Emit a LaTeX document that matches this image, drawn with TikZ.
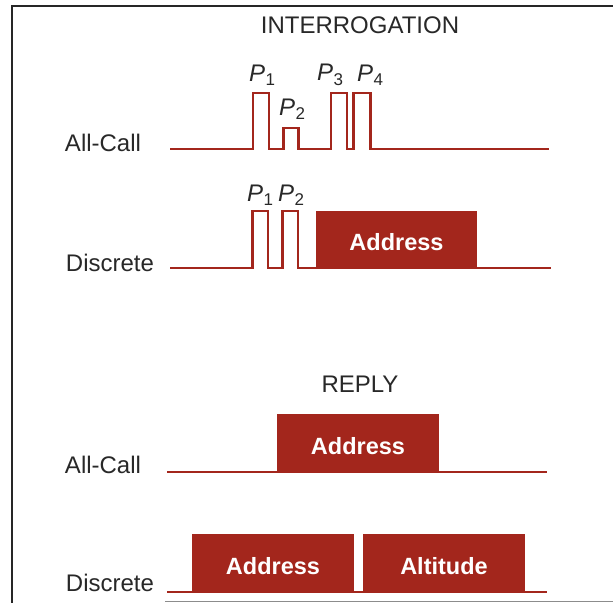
\documentclass[tikz,border=0pt]{standalone}
\usepackage{fontspec}
\setmainfont{Liberation Sans}
\definecolor{sig}{RGB}{163,38,28}
\definecolor{txt}{RGB}{40,40,40}
\tikzset{
  wave/.style={draw=sig, line width=2.4pt, line join=miter},
  blk/.style={fill=sig, draw=none, inner sep=0pt, minimum width=162pt, minimum height=59pt, text=white, font=\fontsize{23.5}{23.5}\selectfont\bfseries},
  lab/.style={text=txt, inner sep=0pt, font=\fontsize{24}{24}\selectfont},
  plab/.style={text=txt, inner sep=0pt, font=\fontsize{24}{24}\selectfont},
  frame/.style={draw=black!85, line width=2.5pt}
}
\newcommand{\pl}[1]{\textit{P}\kern0.5pt\raisebox{-4.5pt}{\fontsize{17}{17}\selectfont #1}}
\newcommand{\lw}[1]{\raisebox{-2.5pt}[\height][\depth]{#1}}
\begin{document}
\begin{tikzpicture}[x=1pt,y=-1pt]
\useasboundingbox (0,0) rectangle (613,603);
% frame
\draw[frame] (613,6) -- (12,6) -- (12,603);
\draw[black!45, line width=1pt] (165,601) -- (613,601);
% titles
\node[lab] (tint) at (360,25) {INTERROGATION};
\node[lab] (trep) at (360,384) {REPLY};
% labels
\node[lab] (l1) at (103,143) {All-Call};
\node[lab] (l2) at (110,263) {Discrete};
\node[lab] (l3) at (103,465) {All-Call};
\node[lab] (l4) at (110,583) {Discrete};
% interrogation all-call
\draw[wave] (170,149) -- (253,149) -- (253,93) -- (269,93) -- (269,149)
  -- (283.5,149) -- (283.5,128) -- (298.5,128) -- (298.5,149)
  -- (331,149) -- (331,93) -- (347,93) -- (347,149)
  -- (353.5,149) -- (353.5,93) -- (370.5,93) -- (370.5,149) -- (549,149);
\node[plab] (p1a) at (262,75) {\pl{1}};
\node[plab] (p2a) at (292,109) {\pl{2}};
\node[plab] (p3a) at (330,75) {\pl{3}};
\node[plab] (p4a) at (370,75) {\pl{4}};
% interrogation discrete
\node[blk, minimum width=161pt, minimum height=58pt] (addr1) at (396.5,240) {\lw{Address}};
\coordinate (a1w) at (addr1.west |- 0,268);
\coordinate (a1e) at (addr1.east |- 0,268);
\draw[wave] (170,268) -- (252.5,268) -- (252.5,211) -- (268,211) -- (268,268)
  -- (282.5,268) -- (282.5,211) -- (298,211) -- (298,268) -- (a1w);
\draw[wave] (a1e) -- (551,268);
\node[plab] (p1b) at (260,195) {\pl{1}};
\node[plab] (p2b) at (291,195) {\pl{2}};
% reply all-call
\node[blk] (addr2) at (358,443.5) {\lw{Address}};
\coordinate (a2w) at (addr2.west |- 0,472);
\coordinate (a2e) at (addr2.east |- 0,472);
\draw[wave] (167,472) -- (a2w);
\draw[wave] (a2e) -- (547,472);
% reply discrete
\node[blk] (addr3) at (273,563.5) {\lw{Address}};
\node[blk] (alt) at (444,563.5) {\lw{Altitude}};
\coordinate (a3w) at (addr3.west |- 0,592);
\coordinate (a3e) at (addr3.east |- 0,592);
\coordinate (a4w) at (alt.west |- 0,592);
\coordinate (a4e) at (alt.east |- 0,592);
\draw[wave] (167,592) -- (a3w);
\draw[wave] (a3e) -- (a4w);
\draw[wave] (a4e) -- (547,592);
\end{tikzpicture}
\end{document}
